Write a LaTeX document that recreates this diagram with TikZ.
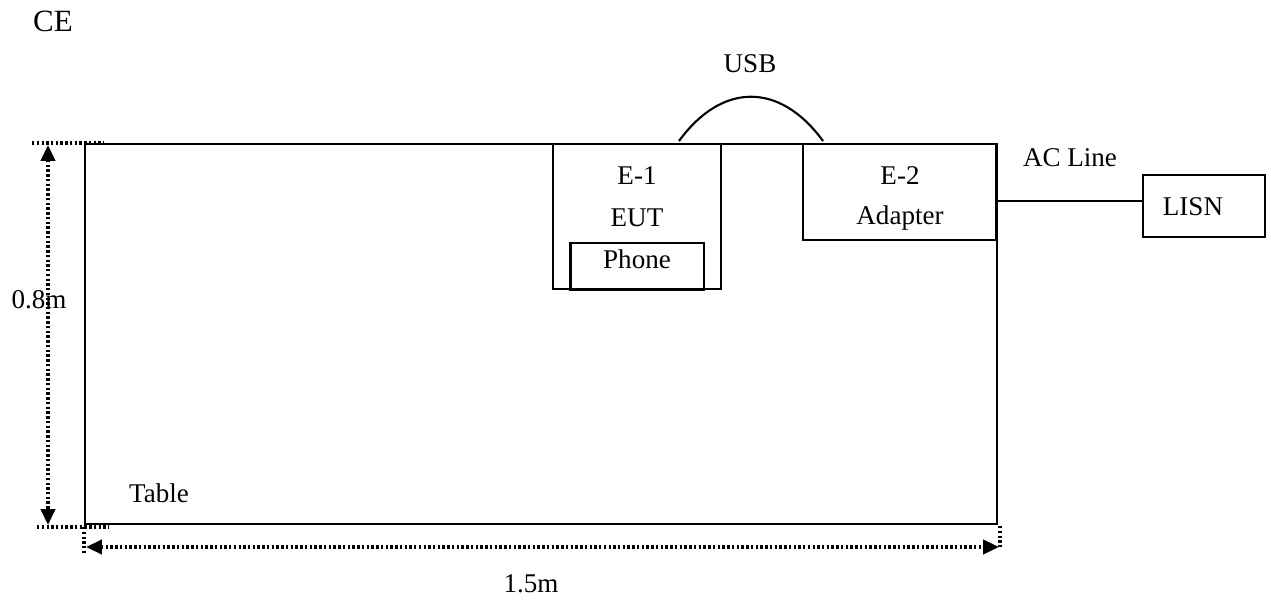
\documentclass[tikz,border=0pt]{standalone}
\usepackage{fontspec}
\setmainfont{Liberation Serif}
\usetikzlibrary{arrows.meta}
\usetikzlibrary{positioning}

\begin{document}
\begin{tikzpicture}[x=0.02cm,y=-0.02cm,
  box/.style={draw,line width=1.2pt,inner sep=0pt},
  txt/.style={anchor=base,inner sep=0pt,font=\fontsize{15.4}{18}\selectfont},
  dimline/.style={line width=2pt,dash pattern=on 1.4pt off 1.3pt},
  bitip/.style={{Triangle[length=9pt,width=8pt]}-{Triangle[length=9pt,width=8pt]}}]
\useasboundingbox (0,0) rectangle (1271,601);

% table and boxes
\node [box,minimum width=18.24cm,minimum height=7.6cm] (table) at (541,334) {};
\node [box,minimum width=3.36cm,minimum height=2.9cm] (e1) at (637,216.5) {};
\node [box,line width=1.7pt,minimum width=2.68cm,minimum height=0.94cm] (phone) at (637,266.5) {};
\node [box,minimum width=3.86cm,minimum height=1.92cm] (e2) at (899.5,192) {};
\node [box,minimum width=2.44cm,minimum height=1.24cm] (lisn) at (1204,206) {};

% texts
\node [txt,font=\fontsize{17.6}{20}\selectfont] (ce) at (53,32) {CE};
\node [txt] (usb) at (750,73) {USB};
\node [txt] (e1a) at (637,185) {E-1};
\node [txt] (e1b) at (637,227) {EUT};
\node [txt] (phonet) at (637,269) {Phone};
\node [txt] (e2a) at (900,185) {E-2};
\node [txt] (e2b) at (900,225) {Adapter};
\node [txt] (ac) at (1070,167) {AC Line};
\node [txt] (lisnt) at (1193,215) {LISN};
\node [txt] (tab) at (159,502) {Table};
\node [txt] (hgt) at (39,308) {0.8m};
\node [txt] (wid) at (531,592) {1.5m};

% cables
\coordinate (usba) at (679,141);
\coordinate (usbb) at (823,141);
\draw [line width=1.2pt] (usba) .. controls (722,82) and (780,82) .. (usbb);
\coordinate (acout) at (997,201);
\draw [line width=1.2pt] (acout) -- (acout -| lisn.west);

% dimensions
\draw [dimline] (table.north west) ++(-52,0) -- ++(72,0);
\draw [dimline] (table.south west) ++(-47,2) -- ++(72,0);
\draw [dimline,bitip] (48,145) -- (48,525);
\draw [dimline] (table.south west) ++(0,2) -- ++(0,26);
\draw [dimline] (table.south east) ++(2,1) -- ++(0,23);
\draw [dimline,bitip] (86,547) -- (999,547);
\end{tikzpicture}
\end{document}
